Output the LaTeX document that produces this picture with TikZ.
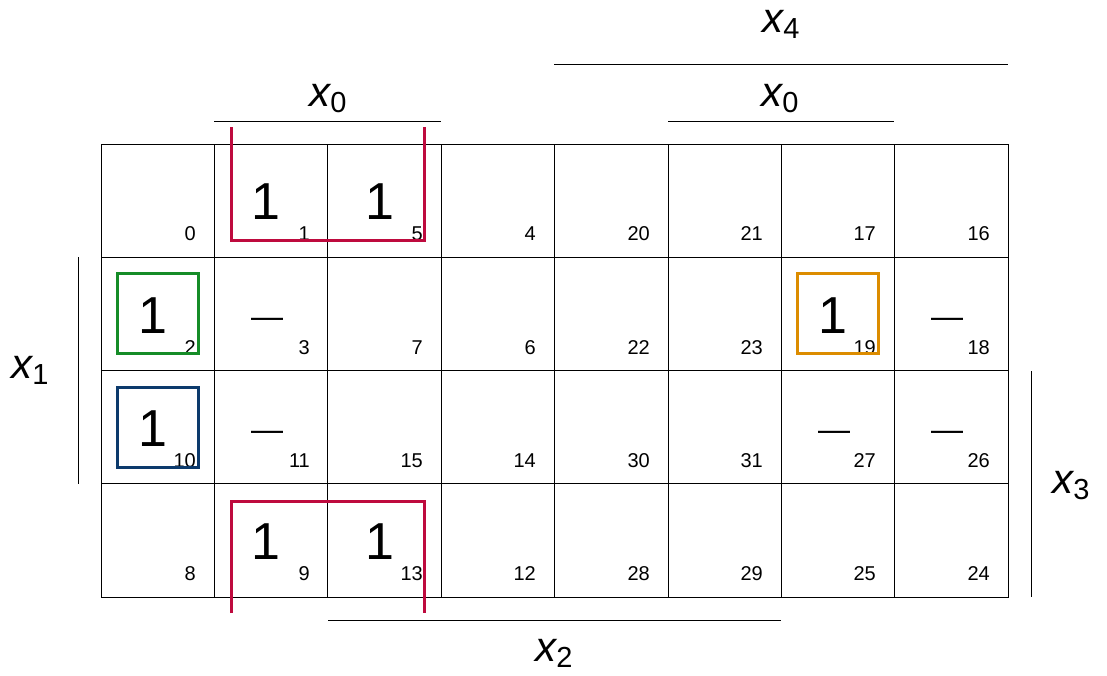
\documentclass[tikz,border=0pt]{standalone}
\usepackage{fontspec}
\setmainfont{Liberation Sans}
\usepackage{tikz}
\usetikzlibrary{shapes}

\definecolor{grpred}{RGB}{190,10,62}
\definecolor{grpgreen}{RGB}{22,140,40}
\definecolor{grpblue}{RGB}{12,58,108}
\definecolor{grporange}{RGB}{220,140,0}
\newcommand{\kvar}[2]{{\itshape #1}\raisebox{-6pt}{\fontsize{29}{31}\selectfont #2}}

\begin{document}
\begin{tikzpicture}[x=1pt,y=-1pt]

      \tikzset{cell/.style = {shape=rectangle,draw,line width=0.7pt,minimum width=113.375pt,minimum height=113.25pt,inner sep=0pt}}
      \tikzset{num/.style = {anchor=base east,inner sep=0pt,font=\fontsize{20}{22}\selectfont}}
      \tikzset{one/.style = {anchor=base,inner sep=0pt,font=\fontsize{52}{56}\selectfont}}
      \tikzset{dc/.style = {anchor=base,inner sep=0pt,font=\fontsize{32}{34}\selectfont}}
      \tikzset{var/.style = {anchor=base,inner sep=0pt,font=\fontsize{42}{46}\selectfont}}
      \tikzset{bar/.style = {-,line width=0.9pt}}
      \tikzset{group/.style = {-,line width=3pt,line join=miter}}
      \useasboundingbox (0,0) rectangle (1107,675);
      % cells
      \node[cell] (c0)  at (157.69,200.62) {}; \node[num] (n0)  at (196,240) {0};
      \node[cell] (c1)  at (271.06,200.62) {}; \node[num] (n1)  at (310,240) {1};
      \node[cell] (c5)  at (384.44,200.62) {}; \node[num] (n5)  at (423,240) {5};
      \node[cell] (c4)  at (497.81,200.62) {}; \node[num] (n4)  at (536,240) {4};
      \node[cell] (c20) at (611.19,200.62) {}; \node[num] (n20) at (650,240) {20};
      \node[cell] (c21) at (724.56,200.62) {}; \node[num] (n21) at (763,240) {21};
      \node[cell] (c17) at (837.94,200.62) {}; \node[num] (n17) at (876,240) {17};
      \node[cell] (c16) at (951.31,200.62) {}; \node[num] (n16) at (990,240) {16};
      \node[cell] (c2)  at (157.69,313.88) {}; \node[num] (n2)  at (196,354) {2};
      \node[cell] (c3)  at (271.06,313.88) {}; \node[num] (n3)  at (310,354) {3};
      \node[cell] (c7)  at (384.44,313.88) {}; \node[num] (n7)  at (423,354) {7};
      \node[cell] (c6)  at (497.81,313.88) {}; \node[num] (n6)  at (536,354) {6};
      \node[cell] (c22) at (611.19,313.88) {}; \node[num] (n22) at (650,354) {22};
      \node[cell] (c23) at (724.56,313.88) {}; \node[num] (n23) at (763,354) {23};
      \node[cell] (c19) at (837.94,313.88) {}; \node[num] (n19) at (876,354) {19};
      \node[cell] (c18) at (951.31,313.88) {}; \node[num] (n18) at (990,354) {18};
      \node[cell] (c10) at (157.69,427.12) {}; \node[num] (n10) at (196,467) {10};
      \node[cell] (c11) at (271.06,427.12) {}; \node[num] (n11) at (310,467) {11};
      \node[cell] (c15) at (384.44,427.12) {}; \node[num] (n15) at (423,467) {15};
      \node[cell] (c14) at (497.81,427.12) {}; \node[num] (n14) at (536,467) {14};
      \node[cell] (c30) at (611.19,427.12) {}; \node[num] (n30) at (650,467) {30};
      \node[cell] (c31) at (724.56,427.12) {}; \node[num] (n31) at (763,467) {31};
      \node[cell] (c27) at (837.94,427.12) {}; \node[num] (n27) at (876,467) {27};
      \node[cell] (c26) at (951.31,427.12) {}; \node[num] (n26) at (990,467) {26};
      \node[cell] (c8)  at (157.69,540.38) {}; \node[num] (n8)  at (196,580) {8};
      \node[cell] (c9)  at (271.06,540.38) {}; \node[num] (n9)  at (310,580) {9};
      \node[cell] (c13) at (384.44,540.38) {}; \node[num] (n13) at (423,580) {13};
      \node[cell] (c12) at (497.81,540.38) {}; \node[num] (n12) at (536,580) {12};
      \node[cell] (c28) at (611.19,540.38) {}; \node[num] (n28) at (650,580) {28};
      \node[cell] (c29) at (724.56,540.38) {}; \node[num] (n29) at (763,580) {29};
      \node[cell] (c25) at (837.94,540.38) {}; \node[num] (n25) at (876,580) {25};
      \node[cell] (c24) at (951.31,540.38) {}; \node[num] (n24) at (990,580) {24};
      % values
      \node[one] (v1)  at (266,219) {1};
      \node[one] (v5)  at (379.5,219) {1};
      \node[one] (v2)  at (152.7,333) {1};
      \node[one] (v19) at (832.5,333) {1};
      \node[one] (v10) at (152.7,446) {1};
      \node[one] (v9)  at (266,559) {1};
      \node[one] (v13) at (379.5,559) {1};
      \node[dc] (d3)  at (267,327) {—};
      \node[dc] (d18) at (947,327) {—};
      \node[dc] (d11) at (267,440) {—};
      \node[dc] (d27) at (834,440) {—};
      \node[dc] (d26) at (947,440) {—};
      % variables
      \coordinate (x4a) at (554,64);   \coordinate (x4b) at (1008,64);
      \coordinate (x0a) at (214,121);  \coordinate (x0b) at (441,121);
      \coordinate (x0c) at (668,121);  \coordinate (x0d) at (894,121);
      \coordinate (x1a) at (78,257);   \coordinate (x1b) at (78,484);
      \coordinate (x3a) at (1031,371); \coordinate (x3b) at (1031,597);
      \coordinate (x2a) at (328,620);  \coordinate (x2b) at (781,620);
      \draw[bar] (x4a) -- (x4b);
      \draw[bar] (x0a) -- (x0b);
      \draw[bar] (x0c) -- (x0d);
      \draw[bar] (x1a) -- (x1b);
      \draw[bar] (x3a) -- (x3b);
      \draw[bar] (x2a) -- (x2b);
      \node[var] (lx4) at (781,32)  {\kvar{x}{4}};
      \node[var] (lx0) at (328,106) {\kvar{x}{0}};
      \node[var] (rx0) at (780,106) {\kvar{x}{0}};
      \node[var] (lx1) at (30,378)  {\kvar{x}{1}};
      \node[var] (lx3) at (1071,493) {\kvar{x}{3}};
      \node[var] (lx2) at (554,661) {\kvar{x}{2}};
      % groups
      \draw[group,grpred] (231,127) -- (231,240) -- (424,240) -- (424,127);
      \draw[group,grpred] (231,613) -- (231,501) -- (424,501) -- (424,613);
      \draw[group,grpgreen] (117,273) rectangle (198,353);
      \draw[group,grpblue] (117,387) rectangle (198,467);
      \draw[group,grporange] (797,273) rectangle (878,353);
\end{tikzpicture}
\end{document}
